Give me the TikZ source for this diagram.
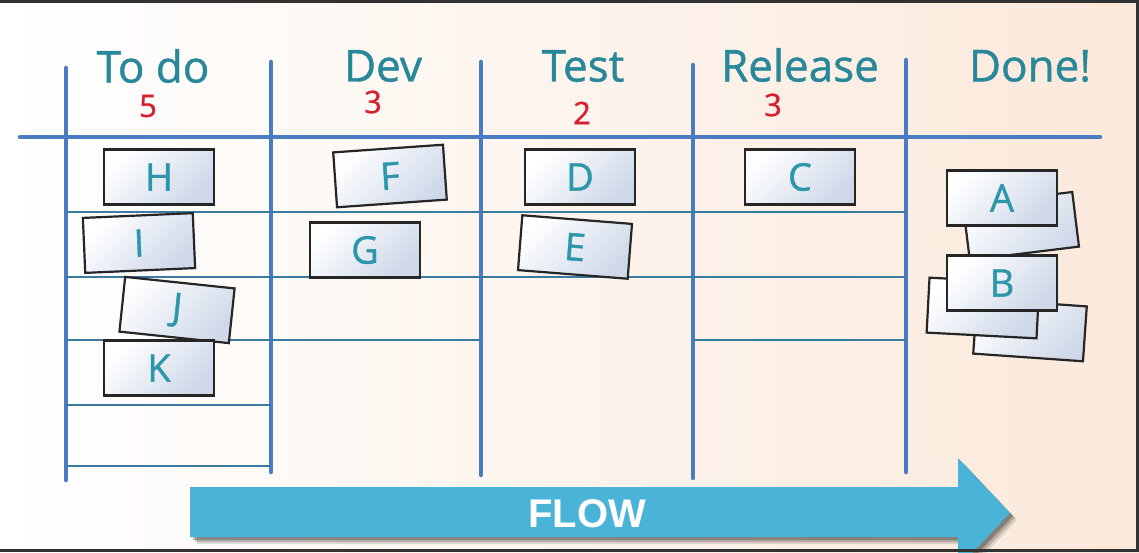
\documentclass[tikz,border=0pt]{standalone}
\usepackage{fontspec}
\setmainfont{Open Sans}
\newfontfamily\handfont[FakeBold=1]{Open Sans}
\newfontfamily\flowfont{Liberation Sans}
\definecolor{bgleft}{RGB}{255,255,255}
\definecolor{bgright}{RGB}{251,233,219}
\definecolor{laneblue}{RGB}{74,124,196}
\definecolor{rowblue}{RGB}{58,124,160}
\definecolor{headteal}{RGB}{40,136,154}
\definecolor{wipred}{RGB}{214,32,48}
\definecolor{cardblue}{RGB}{206,216,232}
\definecolor{cardteal}{RGB}{44,150,170}
\definecolor{flowblue}{RGB}{74,180,216}
\definecolor{frame}{RGB}{50,50,50}
\tikzset{
  lane/.style={line width=4.5pt, draw=laneblue, line cap=round},
  row/.style={line width=2.2pt, draw=rowblue},
  header/.style={text=headteal, font=\handfont\fontsize{44}{44}\selectfont, inner sep=0pt},
  wip/.style={text=wipred, font=\handfont\fontsize{31}{31}\selectfont, inner sep=0pt},
  card/.style={draw=black!85, line width=2.2pt, minimum width=110pt, minimum height=55pt,
    top color=white, bottom color=cardblue, shading angle=45,
    text=cardteal, font=\handfont\fontsize{38}{38}\selectfont, inner sep=0pt},
}
\begin{document}
\begin{tikzpicture}[x=1pt, y=-1pt]
\useasboundingbox (0,0) rectangle (1139,552);
% paper background
\fill[left color=bgleft, right color=bgright] (0,0) rectangle (1139,552);

% swim lanes
\draw[lane] (20,137) -- (1100,137);
\draw[lane] (66,68) -- (66,480);
\draw[lane] (271,62) -- (271,472);
\draw[lane] (481,62) -- (481,475);
\draw[lane] (693,65) -- (693,478);
\draw[lane] (906,60) -- (906,472);

% slot rows
\draw[row] (66,212) -- (906,212);
\draw[row] (66,277) -- (906,277);
\draw[row] (66,340) -- (481,340);
\draw[row] (693,340) -- (906,340);
\draw[row] (66,405) -- (271,405);
\draw[row] (66,466) -- (271,466);

% column titles and WIP limits
\node[header] (hTodo) at (153,66) {To do};
\node[header] (hDev) at (383,66) {Dev};
\node[header] (hTest) at (583,66) {Test};
\node[header] (hRel) at (800,65) {Release};
\node[header] (hDone) at (1030,66) {Done!};
\node[wip] (wTodo) at (148,106) {5};
\node[wip] (wDev) at (373,102) {3};
\node[wip] (wTest) at (582,113) {2};
\node[wip] (wRel) at (773,105) {3};

% cards in progress
\node[card] (cH) at (159,177) {H};
\node[card, rotate=4] (cF) at (390,176) {F};
\node[card] (cD) at (580,177) {D};
\node[card] (cC) at (800,177) {C};
\node[card, rotate=2.5] (cI) at (139,243) {I};
\node[card] (cG) at (365,250) {G};
\node[card, rotate=-4.5] (cE) at (575,247) {E};
\node[card, rotate=-6] (cJ) at (177,310) {J};
\node[card] (cK) at (159,368) {K};

% finished pile
\node[card, rotate=7] (dA2) at (1021,226) {};
\node[card, rotate=-4] (dB2) at (1030,330) {};
\node[card, rotate=-3] (dB3) at (983,308) {};
\node[card] (cA) at (1002,198) {A};
\node[card] (cB) at (1002,283) {B};

% flow arrow with soft shadow
\begin{scope}
\clip (0,0) rectangle (1139,552);
\foreach \s/\o in {7/0.12,5/0.18,3/0.25}{
  \fill[black, opacity=\o, shift={(\s,\s)}]
    (190,487) -- (958,487) -- (958,458) -- (1010,513) -- (958,568) -- (958,537) -- (190,537) -- cycle;
}
\fill[flowblue] (190,487) -- (958,487) -- (958,458) -- (1010,513) -- (958,568) -- (958,537) -- (190,537) -- cycle;
\node[text=white, font=\flowfont\bfseries\fontsize{40}{40}\selectfont, inner sep=0pt] (flow) at (587,514) {FLOW};
\end{scope}

% frame
\draw[frame, line width=3pt] (0,1.5) -- (1137.5,1.5) -- (1137.5,550.5) -- (0,550.5);
\end{tikzpicture}
\end{document}
